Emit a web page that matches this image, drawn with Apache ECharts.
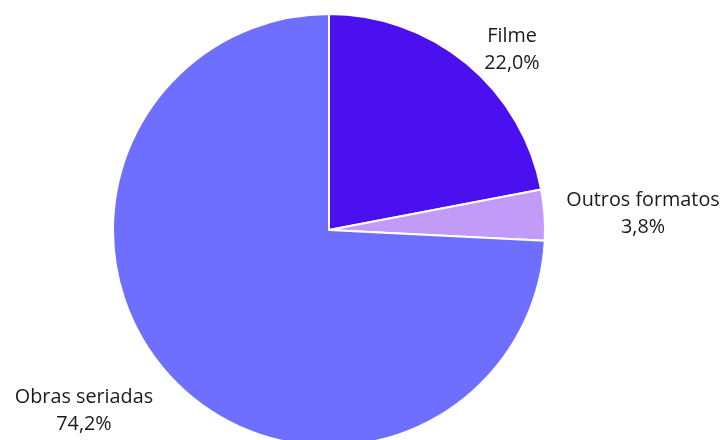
<!DOCTYPE html>
<html>
<head>
<meta charset="utf-8">
<script src="https://cdn.jsdelivr.net/npm/echarts@6/dist/echarts.min.js"></script>
<style>
  html, body { margin: 0; padding: 0; background: #fff; }
  #chart { width: 724px; height: 440px; }
</style>
</head>
<body>
<div id="chart"></div>
<script>
// Share of titles by format
const categories = ['Filme', 'Outros formatos', 'Obras seriadas'];
const shares = [22.0, 3.8, 74.2];
const labels = ['22,0%', '3,8%', '74,2%'];

const colors = ['#4B10F0', '#C19BF7', '#6E6EFF'];
// label anchor points (text centre) around the pie
const labelSpots = [[512, 50], [643, 214], [84, 411]];

const chart = echarts.init(document.getElementById('chart'));
chart.setOption({
  animation: false,
  series: [{
    type: 'pie',
    center: [329, 230],
    radius: [0, 216],
    startAngle: 90,
    clockwise: true,
    data: categories.map((name, i) => ({
      name: name,
      value: shares[i],
      itemStyle: { color: colors[i] },
      label: { formatter: name + '\n' + labels[i] }
    })),
    itemStyle: { borderColor: '#ffffff', borderWidth: 2 },
    label: {
      show: true,
      position: 'outside',
      fontFamily: 'Open Sans',
      fontSize: 19.8,
      lineHeight: 27,
      color: '#1a1a1a',
      align: 'center',
      overflow: 'none'
    },
    labelLine: { show: false },
    labelLayout: function (params) {
      const p = labelSpots[params.dataIndex];
      return { x: p[0], y: p[1], align: 'center', verticalAlign: 'middle' };
    }
  }]
});
</script>
</body>
</html>
